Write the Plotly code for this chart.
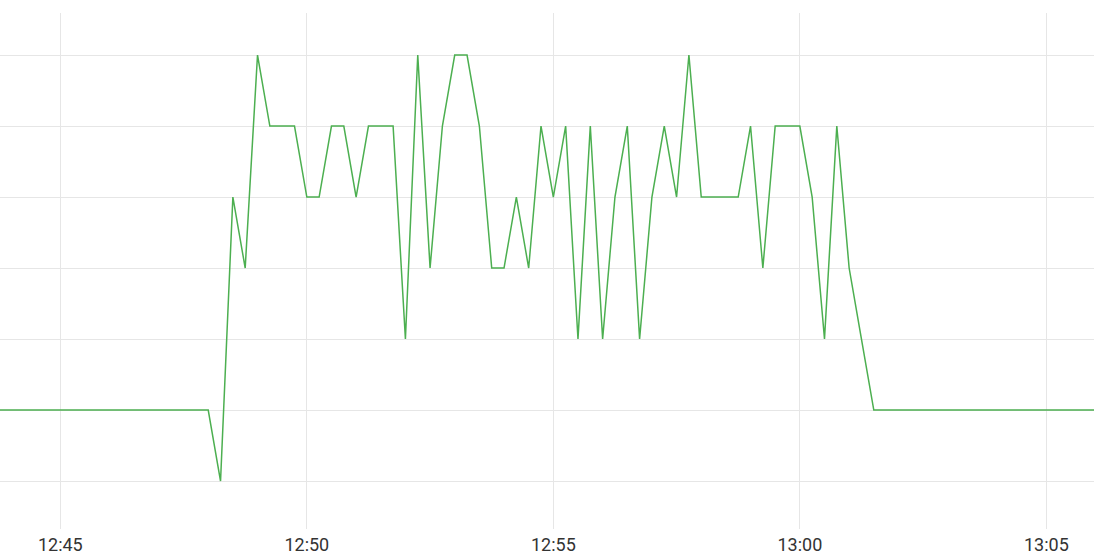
import pandas as pd
import plotly.graph_objects as go

# samples every 15 s, starting 12:43:15
start_time = "2024-01-01 12:43:15"
sample_step = "15s"

values = [
    1, 1, 1, 1, 1, 1, 1, 1, 1, 1,   # 12:43:15 - 12:45:30
    1, 1, 1, 1, 1, 1, 1, 1, 1, 1,   # 12:45:45 - 12:48:00
    0, 4, 3, 6, 5, 5, 5, 4, 4,
    5, 5, 4, 5, 5, 5, 2, 6, 3, 5,
    6, 6, 5, 3, 3, 4, 3, 5, 4, 5,
    2, 5, 2, 4, 5, 2, 4, 5, 4, 6,
    4, 4, 4, 4, 5, 3, 5, 5, 5, 4,
    2, 5, 3, 2, 1, 1, 1, 1, 1, 1,
    1, 1, 1, 1, 1, 1, 1, 1, 1, 1,
    1, 1, 1,
]

x_start = "2024-01-01 12:43:46.6"
x_end = "2024-01-01 13:05:58"
tick_values = ["2024-01-01 12:45", "2024-01-01 12:50", "2024-01-01 12:55",
               "2024-01-01 13:00", "2024-01-01 13:05"]
tick_labels = ["12:45", "12:50", "12:55", "13:00", "13:05"]
y_levels = [0, 1, 2, 3, 4, 5, 6]

times = pd.date_range(start_time, periods=len(values), freq=sample_step)

fig = go.Figure()
fig.add_trace(go.Scatter(
    x=times, y=values, mode="lines",
    line=dict(color="#4caf50", width=1.5),
    hoverinfo="skip",
))

fig.update_layout(
    width=1094, height=558,
    margin=dict(l=0, r=0, t=13, b=29),
    paper_bgcolor="white", plot_bgcolor="white",
    showlegend=False,
    font=dict(family="Roboto", size=18, color="#333333"),
)
fig.update_xaxes(
    range=[x_start, x_end],
    tickvals=tick_values, ticktext=tick_labels,
    ticklabelstandoff=3,
    showgrid=True, gridcolor="#e6e6e6", gridwidth=1,
    zeroline=False, showline=False, ticks="",
)
fig.update_yaxes(
    range=[-0.676, 6.592],
    tickvals=y_levels, showticklabels=False,
    showgrid=True, gridcolor="#e6e6e6", gridwidth=1,
    zeroline=False, showline=False, ticks="",
)

# drop the page's default 8px body margin so the chart sits at 0,0
fig.write_html("out.html", config={"displayModeBar": False},
               post_script="document.body.style.margin = '0';")
